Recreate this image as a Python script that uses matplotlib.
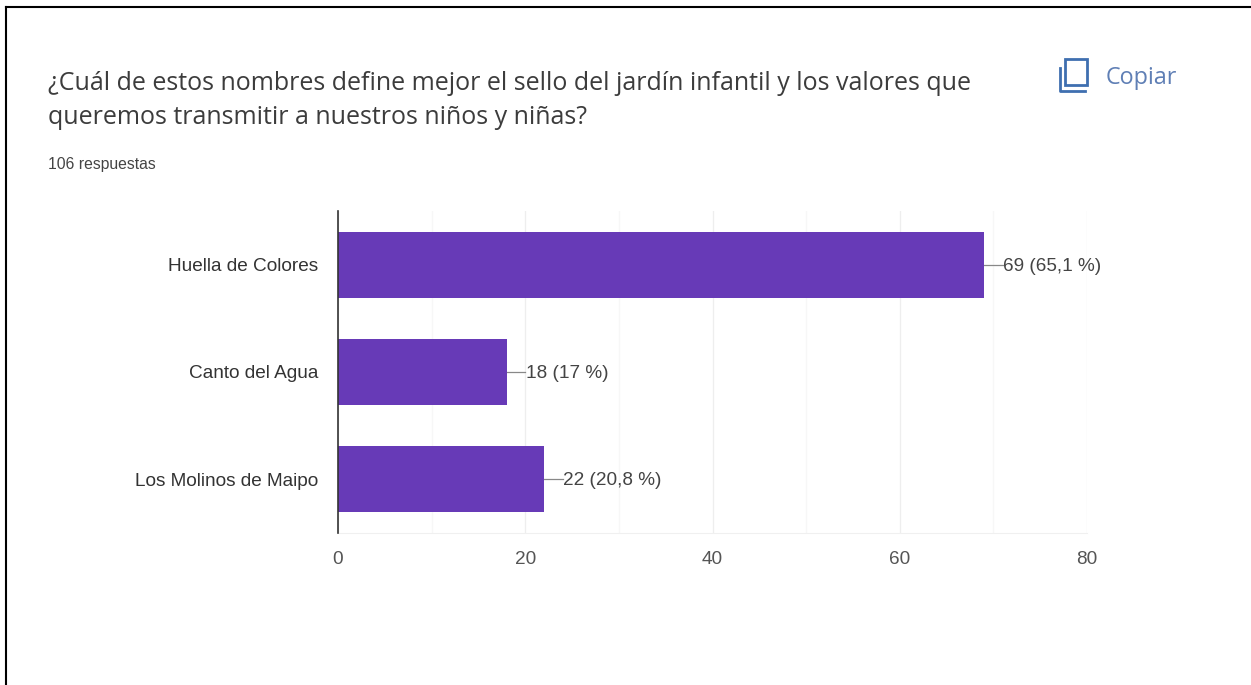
import matplotlib
matplotlib.use("Agg")
import matplotlib.pyplot as plt
from matplotlib.patches import Rectangle
from matplotlib.lines import Line2D

categories = ["Huella de Colores", "Canto del Agua", "Los Molinos de Maipo"]
values = [69, 18, 22]
value_labels = ["69 (65,1 %)", "18 (17 %)", "22 (20,8 %)"]
major_ticks = [0, 20, 40, 60, 80]
minor_ticks = [10, 30, 50, 70]
title_lines = ["¿Cuál de estos nombres define mejor el sello del jardín infantil y los valores que",
               "queremos transmitir a nuestros niños y niñas?"]
subtitle = "106 respuestas"

W, H = 1251, 685
fig = plt.figure(figsize=(W / 100, H / 100), dpi=100, facecolor="white")
def fx(x): return x / W
def fy(y): return 1 - y / H

# outer screenshot border
fig.add_artist(Line2D([fx(6), fx(6)], [fy(7), 0], color="black", lw=1.5))
fig.add_artist(Line2D([fx(6), 1], [fy(7), fy(7)], color="black", lw=1.5))

# header text
fig.text(fx(48), fy(84), title_lines[0], fontsize=18.0, family="Open Sans", color="#3c3c3c", va="center")
fig.text(fx(48), fy(118), title_lines[1], fontsize=18.0, family="Open Sans", color="#3c3c3c", va="center")
fig.text(fx(48), fy(164), subtitle, fontsize=11.3, family="Liberation Sans", color="#444444", va="center")

# copy icon
ic = "#3f6fb0"
fig.add_artist(Rectangle((fx(1065), fy(85)), 22 / W, 26 / H, transform=fig.transFigure,
                         fill=False, ec=ic, lw=2))
fig.add_artist(Line2D([fx(1060), fx(1060), fx(1085)], [fy(68), fy(91), fy(91)], color=ic, lw=2))
fig.text(fx(1106), fy(78), "Copiar", fontsize=16.8, family="Open Sans", color="#5f7fb5", va="center")

# chart
left, right, top, bottom = 338, 1087, 211, 533
ax = fig.add_axes([fx(left), fy(bottom), (right - left) / W, (bottom - top) / H])
ax.set_xlim(0, 80)
ypos = list(range(len(categories)))
ax.set_ylim(len(categories) - 0.5, -0.5)
ax.barh(ypos, values, height=0.615, color="#673ab7", zorder=3)
ax.set_yticks(ypos, categories)
ax.set_xticks(major_ticks)
ax.set_xticks(minor_ticks, minor=True)
ax.grid(True, axis="x", which="major", color="#eeeeee", lw=0.9, zorder=0)
ax.grid(True, axis="x", which="minor", color="#f7f7f7", lw=0.9, zorder=0)
ax.tick_params(axis="both", which="both", length=0)
ax.tick_params(axis="y", pad=14, labelsize=13.7, labelcolor="#333333")
ax.tick_params(axis="x", pad=13, labelsize=13.7, labelcolor="#555555")
for lab in ax.get_xticklabels() + ax.get_yticklabels():
    lab.set_family("Liberation Sans")
for s in ("top", "right"):
    ax.spines[s].set_visible(False)
ax.spines["bottom"].set_color("#f0f0f0")
ax.spines["left"].set_color("#333333")
ax.spines["left"].set_linewidth(1.2)
ax.spines["left"].set_zorder(4)
for y, v, t in zip(ypos, values, value_labels):
    ax.plot([v, v + 2.0], [y, y], color="#888888", lw=0.9, zorder=2)
    ax.text(v + 2.05, y + 0.015, t, va="center", ha="left", fontsize=13.7,
            family="Liberation Sans", color="#444444", zorder=5)

fig.savefig("out.png", dpi=100, facecolor="white")
